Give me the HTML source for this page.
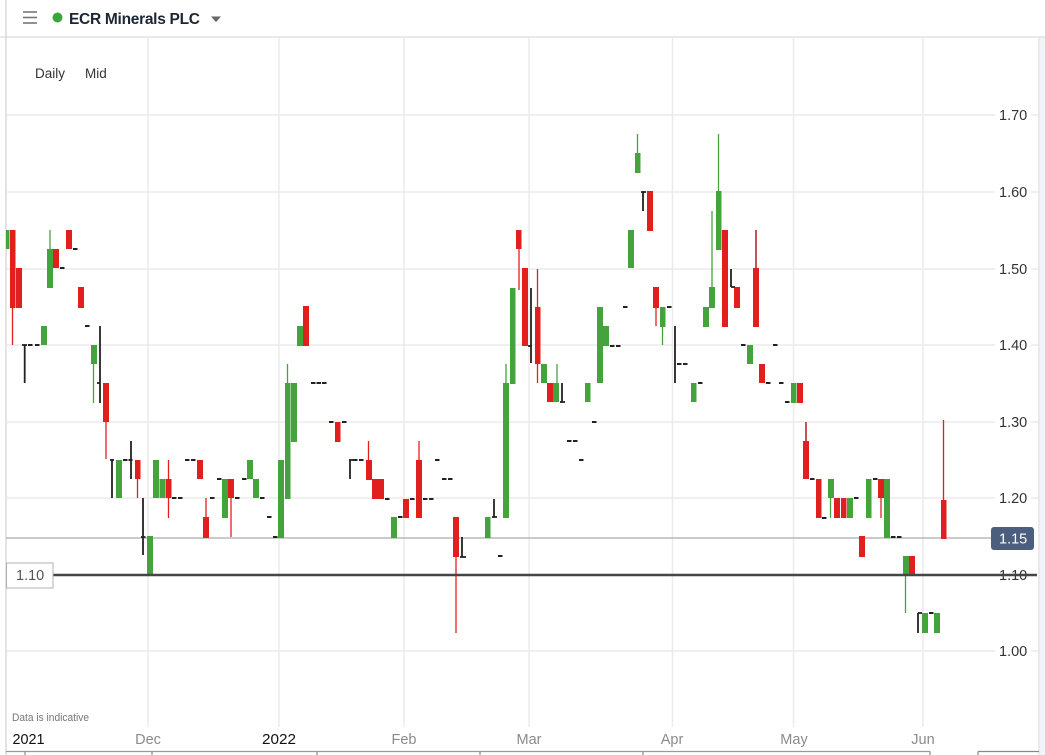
<!DOCTYPE html>
<html>
<head>
<meta charset="utf-8">
<style>
html,body{margin:0;padding:0;background:#fff;}
body{width:1045px;height:755px;overflow:hidden;font-family:"Liberation Sans",sans-serif;}
svg{display:block;}
</style>
</head>
<body>
<svg width="1045" height="755" viewBox="0 0 1045 755" xmlns="http://www.w3.org/2000/svg" font-family="Liberation Sans, sans-serif">
<rect x="0" y="0" width="1045" height="755" fill="#fff"/>
<rect x="1040" y="37" width="5" height="718" fill="#f2f5f8"/>
<line x1="0" y1="37" x2="1045" y2="37" stroke="#dcdcdc" stroke-width="1.2"/>
<line x1="6" y1="0" x2="6" y2="755" stroke="#d0d0d0" stroke-width="1.2"/>
<line x1="1039" y1="37" x2="1039" y2="755" stroke="#dcdcdc" stroke-width="1.2"/>
<g stroke="#777" stroke-width="1.6">
<line x1="23" y1="12" x2="37" y2="12"/>
<line x1="23" y1="17.5" x2="37" y2="17.5"/>
<line x1="23" y1="23" x2="37" y2="23"/>
</g>
<circle cx="57.5" cy="17.5" r="5" fill="#3aa63a"/>
<text x="69" y="24" font-size="15.5" font-weight="bold" fill="#1c2533" textLength="131" lengthAdjust="spacing">ECR Minerals PLC</text>
<polygon points="211,16.5 221,16.5 216,22" fill="#666"/>
<text x="35" y="78" font-size="13.5" fill="#333">Daily</text>
<text x="85" y="78" font-size="13.5" fill="#333">Mid</text>

<g stroke="#ebebeb" stroke-width="1.5">
<line x1="6" y1="115" x2="1038" y2="115"/>
<line x1="6" y1="192" x2="1038" y2="192"/>
<line x1="6" y1="269" x2="1038" y2="269"/>
<line x1="6" y1="345" x2="1038" y2="345"/>
<line x1="6" y1="422" x2="1038" y2="422"/>
<line x1="6" y1="498" x2="1038" y2="498"/>
<line x1="6" y1="651" x2="1038" y2="651"/>
<line x1="148" y1="37" x2="148" y2="727"/>
<line x1="279" y1="37" x2="279" y2="727"/>
<line x1="404" y1="37" x2="404" y2="727"/>
<line x1="529" y1="37" x2="529" y2="727"/>
<line x1="672.5" y1="37" x2="672.5" y2="727"/>
<line x1="793.5" y1="37" x2="793.5" y2="727"/>
<line x1="923" y1="37" x2="923" y2="727"/>
</g>

<line x1="6" y1="538" x2="991" y2="538" stroke="#aaaaaa" stroke-width="1.2"/>

<g fill="#44a33c">
<rect x="6" y="230" width="3.5" height="19"/>
<rect x="41" y="326" width="6" height="19"/>
<rect x="47" y="249" width="6" height="39"/>
<rect x="91" y="345" width="6" height="19"/>
<rect x="116" y="460" width="6" height="38"/>
<rect x="147" y="536" width="6" height="39"/>
<rect x="153" y="460" width="6" height="38"/>
<rect x="159.5" y="479" width="5.5" height="19"/>
<rect x="222" y="479" width="6" height="39"/>
<rect x="247" y="460" width="6" height="19"/>
<rect x="253" y="479" width="6" height="19"/>
<rect x="278" y="460" width="6" height="78"/>
<rect x="285" y="383" width="5.5" height="116"/>
<rect x="291" y="383" width="6" height="59"/>
<rect x="297" y="326" width="6" height="20"/>
<rect x="391" y="517" width="6" height="21"/>
<rect x="485" y="517" width="5.5" height="21"/>
<rect x="503" y="383" width="6" height="135"/>
<rect x="510" y="288" width="5.5" height="96"/>
<rect x="541" y="364" width="6" height="19"/>
<rect x="553" y="383" width="6" height="19"/>
<rect x="585" y="383" width="5.5" height="19"/>
<rect x="597" y="307" width="6" height="76"/>
<rect x="603" y="326" width="6" height="20"/>
<rect x="628" y="230" width="6" height="38"/>
<rect x="635" y="153" width="5.5" height="20"/>
<rect x="660" y="307" width="5.5" height="20"/>
<rect x="691" y="383" width="5.5" height="19"/>
<rect x="703" y="307" width="6" height="20"/>
<rect x="709" y="287" width="6" height="21"/>
<rect x="716" y="191" width="5.5" height="59"/>
<rect x="747" y="345" width="6" height="19"/>
<rect x="791" y="383" width="5.5" height="20"/>
<rect x="828" y="479" width="6" height="19"/>
<rect x="847" y="498" width="6" height="20"/>
<rect x="866" y="479" width="5.5" height="39"/>
<rect x="884" y="479" width="6" height="59"/>
<rect x="903" y="556" width="6" height="19"/>
<rect x="922" y="613" width="6" height="20"/>
<rect x="934" y="613" width="6" height="20"/>
</g>
<g stroke="#44a33c" stroke-width="1.3">
<line x1="50" y1="230" x2="50" y2="249"/>
<line x1="93.5" y1="364" x2="93.5" y2="403"/>
<line x1="287.5" y1="364" x2="287.5" y2="383"/>
<line x1="506" y1="364" x2="506" y2="383"/>
<line x1="557" y1="364" x2="557" y2="383"/>
<line x1="637.5" y1="134" x2="637.5" y2="153"/>
<line x1="662.5" y1="327" x2="662.5" y2="345"/>
<line x1="712" y1="211" x2="712" y2="287"/>
<line x1="718.5" y1="134" x2="718.5" y2="191"/>
<line x1="830.5" y1="498" x2="830.5" y2="518"/>
<line x1="905.5" y1="575" x2="905.5" y2="613"/>
</g>

<g fill="#e21f1f">
<rect x="10" y="230" width="5.5" height="78"/>
<rect x="16" y="268" width="6" height="40"/>
<rect x="53" y="249" width="6" height="19"/>
<rect x="66" y="230" width="6" height="19"/>
<rect x="78" y="287" width="6" height="21"/>
<rect x="103" y="383" width="6" height="39"/>
<rect x="135" y="460" width="5.5" height="19"/>
<rect x="165.5" y="479" width="6" height="19"/>
<rect x="197" y="460" width="6" height="19"/>
<rect x="203" y="517" width="6" height="21"/>
<rect x="228" y="479" width="6" height="19"/>
<rect x="303" y="306" width="6" height="40"/>
<rect x="335" y="422" width="5.5" height="20"/>
<rect x="366" y="460" width="6" height="20"/>
<rect x="372" y="479" width="6" height="20"/>
<rect x="378" y="479" width="6" height="20"/>
<rect x="403" y="499" width="6" height="19"/>
<rect x="416" y="460" width="6" height="58"/>
<rect x="453" y="517" width="6" height="40"/>
<rect x="516" y="230" width="5.5" height="19"/>
<rect x="522" y="268" width="6" height="78"/>
<rect x="535" y="307" width="5.5" height="57"/>
<rect x="547" y="383" width="6" height="19"/>
<rect x="647" y="191" width="6" height="40"/>
<rect x="653" y="287" width="6" height="21"/>
<rect x="722" y="230" width="6" height="97"/>
<rect x="734" y="287" width="6" height="21"/>
<rect x="753" y="268" width="6" height="59"/>
<rect x="759" y="364" width="6" height="19"/>
<rect x="797" y="383" width="6" height="20"/>
<rect x="803" y="441" width="6" height="38"/>
<rect x="816" y="479" width="5.5" height="39"/>
<rect x="834" y="498" width="6" height="20"/>
<rect x="841" y="498" width="5.5" height="20"/>
<rect x="859" y="536" width="6" height="21"/>
<rect x="878" y="479" width="6" height="19"/>
<rect x="909" y="556" width="6" height="19"/>
<rect x="941" y="500" width="5.5" height="39"/>
</g>
<g stroke="#e21f1f" stroke-width="1.3">
<line x1="12.5" y1="308" x2="12.5" y2="345"/>
<line x1="106" y1="422" x2="106" y2="459"/>
<line x1="137.5" y1="479" x2="137.5" y2="498"/>
<line x1="168.5" y1="460" x2="168.5" y2="518"/>
<line x1="206" y1="498" x2="206" y2="517"/>
<line x1="231" y1="498" x2="231" y2="537"/>
<line x1="368.5" y1="441" x2="368.5" y2="460"/>
<line x1="419" y1="441" x2="419" y2="460"/>
<line x1="456" y1="557" x2="456" y2="633"/>
<line x1="519" y1="249" x2="519" y2="290"/>
<line x1="537.5" y1="269" x2="537.5" y2="383"/>
<line x1="656" y1="308" x2="656" y2="326"/>
<line x1="881" y1="498" x2="881" y2="518"/>
<line x1="943.5" y1="420" x2="943.5" y2="500"/>
</g>
<g stroke="#b32a2a" stroke-width="1.6">
<line x1="756" y1="230" x2="756" y2="268"/>
<line x1="806" y1="422" x2="806" y2="441"/>
</g>

<g stroke="#222" stroke-width="1.8">
<line x1="24.7" y1="345" x2="24.7" y2="383"/>
<line x1="22" y1="345" x2="27" y2="345"/>
<line x1="100" y1="326" x2="100" y2="403"/>
<line x1="97" y1="383" x2="100" y2="383"/>
<line x1="112" y1="459" x2="112" y2="498"/>
<line x1="110" y1="460" x2="114" y2="460"/>
<line x1="131" y1="441" x2="131" y2="479"/>
<line x1="143" y1="498" x2="143" y2="555"/>
<line x1="141" y1="537" x2="145.5" y2="537"/>
<line x1="350" y1="460" x2="350" y2="479"/>
<line x1="349" y1="460" x2="353" y2="460"/>
<line x1="462" y1="537" x2="462" y2="557"/>
<line x1="460" y1="557" x2="466" y2="557"/>
<line x1="494" y1="499" x2="494" y2="517"/>
<line x1="492" y1="517" x2="497" y2="517"/>
<line x1="531" y1="288" x2="531" y2="363"/>
<line x1="528" y1="346" x2="532" y2="346"/>
<line x1="562" y1="383" x2="562" y2="402"/>
<line x1="560" y1="402" x2="565" y2="402"/>
<line x1="643" y1="192" x2="643" y2="211"/>
<line x1="641" y1="192" x2="646" y2="192"/>
<line x1="675" y1="326" x2="675" y2="383"/>
<line x1="731" y1="269" x2="731" y2="287"/>
<line x1="731" y1="287" x2="735" y2="287"/>
<line x1="918" y1="613" x2="918" y2="633"/>
<line x1="918" y1="613" x2="922" y2="613"/>
</g>
<g fill="#222">
<rect x="28" y="344" width="4.5" height="2"/>
<rect x="35" y="344" width="4.5" height="2"/>
<rect x="60" y="267" width="4.5" height="2"/>
<rect x="73" y="248" width="4.5" height="2"/>
<rect x="85" y="325" width="4.5" height="2"/>
<rect x="123" y="459" width="4.5" height="2"/>
<rect x="128.5" y="459" width="4" height="2"/>
<rect x="172" y="497" width="4.5" height="2"/>
<rect x="178" y="497" width="4.5" height="2"/>
<rect x="185" y="459" width="4.5" height="2"/>
<rect x="191" y="459" width="4.5" height="2"/>
<rect x="210" y="497" width="4.5" height="2"/>
<rect x="217" y="478" width="4.5" height="2"/>
<rect x="235" y="497" width="4.5" height="2"/>
<rect x="242" y="478" width="4.5" height="2"/>
<rect x="260" y="497" width="4.5" height="2"/>
<rect x="267" y="516" width="4.5" height="2"/>
<rect x="273" y="536" width="4.5" height="2"/>
<rect x="311" y="382" width="4.5" height="2"/>
<rect x="316.5" y="382" width="4.5" height="2"/>
<rect x="322" y="382" width="4.5" height="2"/>
<rect x="329" y="421" width="4.5" height="2"/>
<rect x="342" y="421" width="4.5" height="2"/>
<rect x="353" y="459" width="4.5" height="2"/>
<rect x="359" y="459" width="4.5" height="2"/>
<rect x="385" y="498" width="4.5" height="2"/>
<rect x="398" y="516" width="4.5" height="2"/>
<rect x="410" y="498" width="4.5" height="2"/>
<rect x="423" y="498" width="4.5" height="2"/>
<rect x="429" y="498" width="4.5" height="2"/>
<rect x="435" y="459" width="4.5" height="2"/>
<rect x="442" y="478" width="4.5" height="2"/>
<rect x="448" y="478" width="4.5" height="2"/>
<rect x="498" y="555" width="4.5" height="2"/>
<rect x="567" y="440" width="4.5" height="2"/>
<rect x="573" y="440" width="4.5" height="2"/>
<rect x="579" y="459" width="4.5" height="2"/>
<rect x="592" y="421" width="4.5" height="2"/>
<rect x="610" y="345" width="4.5" height="2"/>
<rect x="616" y="345" width="4.5" height="2"/>
<rect x="623" y="306" width="4.5" height="2"/>
<rect x="667" y="306" width="4.5" height="2"/>
<rect x="677" y="363" width="4.5" height="2"/>
<rect x="683" y="363" width="4.5" height="2"/>
<rect x="698" y="382" width="4.5" height="2"/>
<rect x="741" y="344" width="4.5" height="2"/>
<rect x="766" y="382" width="4.5" height="2"/>
<rect x="773" y="344" width="4.5" height="2"/>
<rect x="779" y="382" width="4.5" height="2"/>
<rect x="785" y="401" width="4.5" height="2"/>
<rect x="810" y="478" width="4.5" height="2"/>
<rect x="822" y="517" width="4.5" height="2"/>
<rect x="854" y="497" width="4.5" height="2"/>
<rect x="873" y="478" width="4.5" height="2"/>
<rect x="891" y="536" width="4.5" height="2"/>
<rect x="897" y="536" width="4.5" height="2"/>
<rect x="929" y="612" width="4.5" height="2"/>
</g>

<g font-size="14.5" fill="#333">
<rect x="995" y="106" width="36" height="18" fill="#fff"/>
<text x="999" y="120">1.70</text>
<rect x="995" y="183" width="36" height="18" fill="#fff"/>
<text x="999" y="197">1.60</text>
<rect x="995" y="260" width="36" height="18" fill="#fff"/>
<text x="999" y="274">1.50</text>
<rect x="995" y="336" width="36" height="18" fill="#fff"/>
<text x="999" y="350">1.40</text>
<rect x="995" y="413" width="36" height="18" fill="#fff"/>
<text x="999" y="427">1.30</text>
<rect x="995" y="489" width="36" height="18" fill="#fff"/>
<text x="999" y="503">1.20</text>
<rect x="995" y="642" width="36" height="18" fill="#fff"/>
<text x="999" y="656">1.00</text>
<text x="999" y="580">1.10</text>
</g>

<line x1="53" y1="575" x2="1037" y2="575" stroke="#454545" stroke-width="2.4"/>
<rect x="6.5" y="563" width="46.5" height="25" fill="#fff" stroke="#b0b0b0" stroke-width="1"/>
<text x="16" y="580" font-size="14.5" fill="#555">1.10</text>

<rect x="991" y="527" width="43" height="23" rx="3" fill="#4b5e7e"/>
<text x="999" y="543.5" font-size="14.5" fill="#fff">1.15</text>

<text x="12" y="721" font-size="11" fill="#777" textLength="77" lengthAdjust="spacingAndGlyphs">Data is indicative</text>
<g font-size="15" fill="#111">
<text x="12.5" y="744" textLength="32" lengthAdjust="spacingAndGlyphs">2021</text>
<text x="262" y="744" textLength="34" lengthAdjust="spacingAndGlyphs">2022</text>
</g>
<g font-size="14.5" fill="#8a8a8a" text-anchor="middle">
<text x="148" y="744">Dec</text>
<text x="404" y="744">Feb</text>
<text x="529" y="744">Mar</text>
<text x="672" y="744">Apr</text>
<text x="794" y="744">May</text>
<text x="923" y="744">Jun</text>
</g>

<line x1="6" y1="751.5" x2="930" y2="751.5" stroke="#999" stroke-width="1.2"/>
<line x1="978" y1="751.5" x2="1039" y2="751.5" stroke="#888" stroke-width="1.2"/>
<g stroke="#888" stroke-width="1.2">
<line x1="25" y1="751.5" x2="25" y2="755"/>
<line x1="152" y1="751.5" x2="152" y2="755"/>
<line x1="317" y1="751.5" x2="317" y2="755"/>
<line x1="480" y1="751.5" x2="480" y2="755"/>
<line x1="643" y1="751.5" x2="643" y2="755"/>
<line x1="930" y1="751.5" x2="930" y2="755"/>
<line x1="978" y1="751.5" x2="978" y2="755"/>
</g>
</svg>
</body>
</html>
